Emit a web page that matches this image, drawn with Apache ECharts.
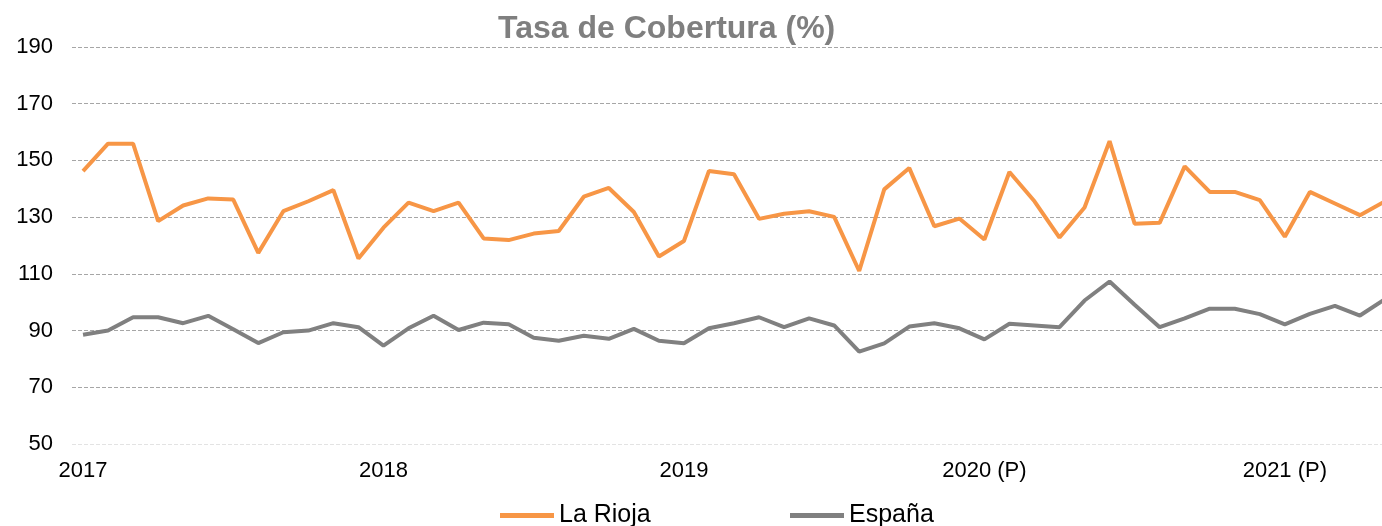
<!DOCTYPE html>
<html>
<head>
<meta charset="utf-8">
<script src="https://cdn.jsdelivr.net/npm/echarts@6/dist/echarts.min.js"></script>
<style>html,body{margin:0;padding:0;background:#fff}#c{width:1382px;height:526px}</style>
</head>
<body>
<div id="c"></div>
<script>
// Monthly, Jan 2017 .. May 2021
const tickIndex = [0, 12, 24, 36, 48];
const tickLabels = ['2017', '2018', '2019', '2020 (P)', '2021 (P)'];
const laRioja = [146.2, 155.9, 155.9, 128.6, 134.1, 136.6, 136.2, 117.4, 132.1, 135.6, 139.5, 115.4,
  126.3, 135.1, 132.1, 135.1, 122.5, 121.9, 124.2, 125.1, 137.2, 140.3, 131.8, 116.1,
  121.6, 146.3, 145.1, 129.4, 131.2, 132.1, 130.1, 111.0, 139.8, 147.3, 126.8, 129.5,
  122.1, 145.9, 135.6, 122.8, 133.4, 156.8, 127.7, 128.0, 147.9, 138.9, 138.9, 136.0,
  123.1, 138.9, 134.8, 130.7, 135.6];
const espana = [88.5, 90.0, 94.7, 94.7, 92.6, 95.2, 90.5, 85.6, 89.4, 90.0, 92.6, 91.2,
  84.7, 90.8, 95.2, 90.2, 92.8, 92.2, 87.5, 86.4, 88.2, 87.1, 90.6, 86.4,
  85.5, 90.8, 92.6, 94.7, 91.2, 94.3, 91.8, 82.6, 85.5, 91.4, 92.6, 90.8,
  86.9, 92.4, 91.8, 91.2, 100.6, 107.3, 99.1, 91.2, 94.3, 97.7, 97.7, 95.8,
  92.2, 95.9, 98.7, 95.3, 101.1];
const seriesNames = ['La Rioja', 'España'];
const yTicks = [50, 70, 90, 110, 130, 150, 170, 190];

const FONT = '"Liberation Sans", Arial, sans-serif';
const chart = echarts.init(document.getElementById('c'), null, {renderer: 'canvas'});
const toXY = arr => arr.map((v, i) => [i, v]);
const gridColors = yTicks.map((t, i) => i === 0 ? '#e3e3e3' : '#a6a6a6');

chart.setOption({
  animation: false,
  backgroundColor: '#fff',
  title: {
    text: 'Tasa de Cobertura (%)',
    left: 493, top: 8,
    textStyle: {fontFamily: FONT, fontSize: 32, fontWeight: 'bold', color: '#7f7f7f'}
  },
  legend: [
    {data: [seriesNames[0]], left: 495, top: 498, icon: 'rect', itemWidth: 54, itemHeight: 5,
      textStyle: {fontFamily: FONT, fontSize: 25, color: '#000'}},
    {data: [seriesNames[1]], left: 785, top: 498, icon: 'rect', itemWidth: 54, itemHeight: 5,
      textStyle: {fontFamily: FONT, fontSize: 25, color: '#000'}}
  ],
  grid: {left: 72, right: 0, top: 47, bottom: 82, containLabel: false},
  xAxis: {
    type: 'value', min: -0.44, max: 51.88,
    axisLine: {show: false}, axisTick: {show: false}, splitLine: {show: false},
    axisLabel: {
      customValues: tickIndex, margin: 16, fontFamily: FONT, fontSize: 22, color: '#000',
      formatter: v => { const k = tickIndex.indexOf(Math.round(v)); return k >= 0 ? tickLabels[k] : ''; }
    }
  },
  yAxis: {
    type: 'value', min: 50, max: 190, interval: 20,
    axisLine: {show: false}, axisTick: {show: false},
    axisLabel: {margin: 19, fontFamily: FONT, fontSize: 22, color: '#000'},
    splitLine: {show: true, lineStyle: {color: gridColors, type: [4, 2], width: 1}}
  },
  series: [
    {name: seriesNames[0], type: 'line', data: toXY(laRioja), showSymbol: false, symbol: 'none',
      lineStyle: {color: '#f79646', width: 4}, itemStyle: {color: '#f79646'}, z: 3},
    {name: seriesNames[1], type: 'line', data: toXY(espana), showSymbol: false, symbol: 'none',
      lineStyle: {color: '#808080', width: 4}, itemStyle: {color: '#808080'}, z: 2}
  ]
});
</script>
</body>
</html>
